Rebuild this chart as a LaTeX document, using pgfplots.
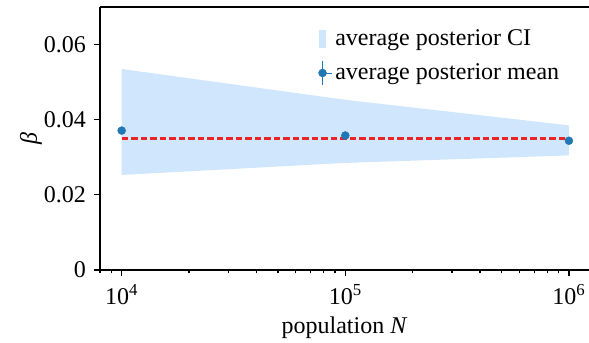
\documentclass[border=0pt]{standalone}
\usepackage{fontspec}
\setmainfont{Liberation Serif}
\usepackage{pgfplots}
\pgfplotsset{compat=1.18}
\definecolor{cifill}{RGB}{208,230,252}
\definecolor{tabblue}{RGB}{31,119,180}
\definecolor{dashred}{RGB}{232,36,40}
\newcommand{\bigf}{\fontsize{24bp}{28bp}\selectfont}
\begin{document}
\bigf
\begin{tikzpicture}
\begin{axis}[
  name=ax,
  xmode=log, scale only axis, width=489bp, height=263bp,
  xmin=8000, xmax=1.23e6, ymin=0, ymax=0.07,
  axis x line=box, axis y line=left,
  axis line style={-, line width=1.6bp},
  tick pos=left, tick align=outside,
  major tick length=6bp, minor tick length=3.5bp,
  every tick/.style={black, line width=1.2bp},
  scaled y ticks=false,
  ytick={0,0.02,0.04,0.06}, yticklabels={0,0.02,0.04,0.06},
  xtick={1e4,1e5,1e6},
  xticklabels={10\textsuperscript{4},10\textsuperscript{5},10\textsuperscript{6}},
  minor xtick={8000,9000,20000,30000,40000,50000,60000,70000,80000,90000,200000,300000,400000,500000,600000,700000,800000,900000},
  /pgf/number format/assume math mode=true,
  tick label style={font=\bigf},
  label style={font=\bigf},
  xlabel={population \textit{N}}, ylabel={\textit{β}},
  every axis y label/.style={at={(rel axis cs:-0.141,0.5)}, anchor=center, rotate=90},
  every axis x label/.style={at={(rel axis cs:0.5,-0.22)}, anchor=center},
  legend style={draw=none, fill=none, font=\bigf, at={(0.44,0.93)}, anchor=north west,
    row sep=9bp, nodes={inner xsep=3bp}},
  legend cell align=left,
]
\addplot[fill=cifill, draw=none,
  legend image code/.code={\fill[cifill] (0bp,-9bp) rectangle (7bp,9bp); \path (0bp,0bp) -- (13bp,0bp);}]
  coordinates {(1e4,0.0535)(1e5,0.0453)(1e6,0.0385)(1e6,0.0305)(1e5,0.0285)(1e4,0.0253)} -- cycle;
\addlegendentry{average posterior CI}
\addplot[draw=dashred, line width=2.1bp, dash pattern=on 6.5bp off 3bp, forget plot]
  coordinates {(1e4,0.035)(1e6,0.035)};
\addplot[only marks, mark=*, mark size=4bp, tabblue, mark options={draw=tabblue, fill=tabblue},
  legend image code/.code={\draw[draw=tabblue, line width=1.8bp, solid] (3.5bp,-12bp) -- (3.5bp,12bp); \fill[fill=tabblue] (3.5bp,0bp) circle (4bp); \path (0bp,0bp) -- (13bp,0bp);}]
  coordinates {(1e4,0.0371)(1e5,0.0358)(1e6,0.0344)};
\addlegendentry{average posterior mean}
\end{axis}
\pgfresetboundingbox
\path[use as bounding box] ([xshift=-100bp,yshift=-73bp]ax.south west) rectangle ([yshift=7bp]ax.north east);
\end{tikzpicture}
\end{document}
